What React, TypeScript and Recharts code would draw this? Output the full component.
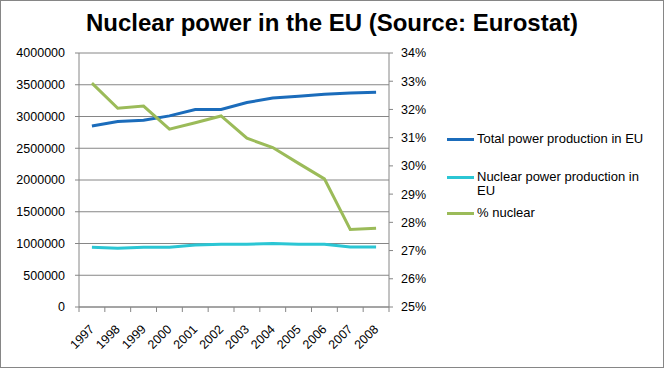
import React from "react";
import {
  LineChart,
  Line,
  XAxis,
  YAxis,
  CartesianGrid,
} from "recharts";

const years = ["1997", "1998", "1999", "2000", "2001", "2002", "2003", "2004", "2005", "2006", "2007", "2008"];
const totalProduction = [2850000, 2920000, 2940000, 3010000, 3110000, 3110000, 3220000, 3290000, 3320000, 3350000, 3370000, 3380000];
const nuclearProduction = [940000, 925000, 940000, 940000, 975000, 990000, 990000, 1000000, 990000, 990000, 945000, 945000];
const nuclearShare = [32.93, 32.04, 32.12, 31.3, 31.53, 31.77, 30.98, 30.65, 30.09, 29.54, 27.75, 27.79];

const leftTicks = [0, 500000, 1000000, 1500000, 2000000, 2500000, 3000000, 3500000, 4000000];
const rightTicks = [25, 26, 27, 28, 29, 30, 31, 32, 33, 34];

const series = [
  { key: "total", name: "Total power production in EU", color: "#1b6cbb", axis: "left" },
  { key: "nuclear", name: "Nuclear power production in EU", color: "#2bc6d4", axis: "left" },
  { key: "share", name: "% nuclear", color: "#9bbb59", axis: "right" },
];

const data = years.map((year, i) => ({
  year,
  total: totalProduction[i],
  nuclear: nuclearProduction[i],
  share: nuclearShare[i],
}));

const FONT = "'Liberation Sans', Arial, sans-serif";
const AXIS = "#868686";
const W = 664;
const H = 368;
const PLOT_LEFT = 79;
const PLOT_RIGHT = 389;
const HALF_BAND = (PLOT_RIGHT - PLOT_LEFT) / years.length / 2;

function YearTick(props: any) {
  const { x, y, payload, index } = props;
  return (
    <g>
      <line x1={x - HALF_BAND} y1={y} x2={x - HALF_BAND} y2={y + 5} stroke={AXIS} />
      {index === years.length - 1 && (
        <line x1={x + HALF_BAND} y1={y} x2={x + HALF_BAND} y2={y + 5} stroke={AXIS} />
      )}
      <text
        transform={`translate(${x + 3},${y + 23}) rotate(-45)`}
        textAnchor="end"
        fontSize={12.5}
        fontFamily={FONT}
        fill="#000"
      >
        {payload.value}
      </text>
    </g>
  );
}

function LegendBox() {
  const gaps = [0, 24, 8];
  return (
    <div
      style={{
        position: "absolute",
        left: 447,
        top: 132,
        fontFamily: FONT,
        fontSize: 13,
        color: "#000",
        lineHeight: "14px",
      }}
    >
      {series.map((s, i) => (
        <div key={s.key} style={{ display: "flex", alignItems: "flex-start", marginTop: gaps[i] }}>
          <div
            style={{
              width: 27,
              height: 3,
              background: s.color,
              marginTop: 6,
              marginRight: 3,
              flexShrink: 0,
            }}
          />
          <div style={{ width: 178 }}>{s.name}</div>
        </div>
      ))}
    </div>
  );
}

export default function App() {
  return (
    <div style={{ position: "fixed", left: 0, top: 0, width: W, height: H, background: "#fff" }}>
      <div
        style={{
          position: "absolute",
          left: 0,
          top: 0,
          width: W,
          textAlign: "center",
          fontFamily: FONT,
          fontWeight: "bold",
          fontSize: 24,
          lineHeight: "24px",
          paddingTop: 11,
          color: "#000",
        }}
      >
        Nuclear power in the EU (Source: Eurostat)
      </div>
      <div style={{ position: "absolute", left: 0, top: 0 }}>
        <LineChart
          width={W}
          height={H}
          data={data}
          margin={{ top: 53, right: W - PLOT_RIGHT - 60, bottom: 0, left: 0 }}
        >
          <CartesianGrid yAxisId="left" vertical={false} stroke={AXIS} strokeWidth={1} />
          <XAxis
            dataKey="year"
            scale="band"
            height={61}
            stroke={AXIS}
            tickLine={false}
            tickSize={0}
            tickMargin={0}
            interval={0}
            tick={<YearTick />}
          />
          <YAxis
            yAxisId="left"
            width={PLOT_LEFT}
            domain={[0, 4000000]}
            ticks={leftTicks}
            interval={0}
            stroke={AXIS}
            tickSize={4}
            tickMargin={10}
            tick={{ fill: "#000", fontSize: 12.5, fontFamily: FONT }}
          />
          <YAxis
            yAxisId="right"
            orientation="right"
            width={60}
            domain={[25, 34]}
            ticks={rightTicks}
            interval={0}
            stroke={AXIS}
            tickSize={4}
            tickMargin={8}
            tickFormatter={(v) => `${v}%`}
            tick={{ fill: "#000", fontSize: 12.5, fontFamily: FONT, textAnchor: "start" }}
          />
          {series.map((s) => (
            <Line
              key={s.key}
              yAxisId={s.axis}
              dataKey={s.key}
              name={s.name}
              stroke={s.color}
              strokeWidth={3}
              dot={false}
              activeDot={false}
              isAnimationActive={false}
            />
          ))}
        </LineChart>
      </div>
      <LegendBox />
      <div
        style={{
          position: "absolute",
          left: 0,
          top: 0,
          width: W,
          height: H,
          boxSizing: "border-box",
          border: `1px solid ${AXIS}`,
          pointerEvents: "none",
        }}
      />
    </div>
  );
}
